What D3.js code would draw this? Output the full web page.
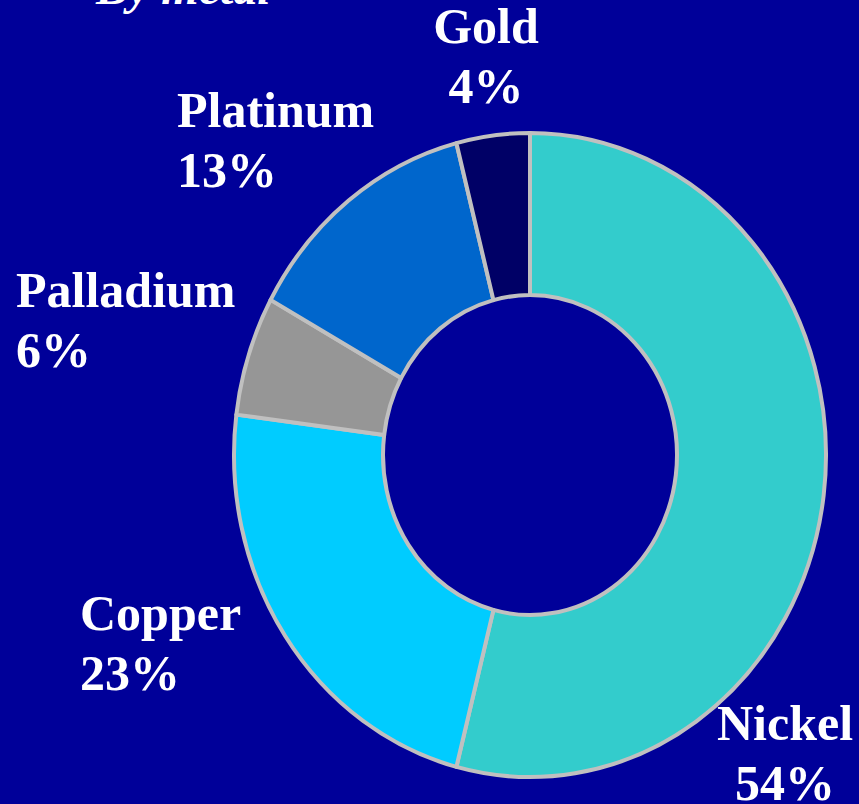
<!DOCTYPE html>
<html>
<head>
<meta charset="utf-8">
<script src="https://cdn.jsdelivr.net/npm/d3@7"></script>
<style>
  html, body { margin: 0; padding: 0; background: #000099; }
  svg { display: block; }
  text { font-family: "Liberation Serif", "Times New Roman", serif; font-weight: bold; fill: #ffffff; }
</style>
</head>
<body>
<svg id="chart" width="859" height="804"></svg>
<script>
// Share of output by metal (percent), clockwise from 12 o'clock
const metals = ["Nickel", "Copper", "Palladium", "Platinum", "Gold"];
const shares = [54, 23, 6, 13, 4];
const sliceColors = ["#33CCCC", "#00CCFF", "#969696", "#0066CC", "#000066"];
const subtitle = "By metal";

const W = 859, H = 804;
const cx = 530, cy = 455;
const outerR = 296, innerR = 147;
const yStretch = 1.088;          // the ring is drawn slightly taller than wide

const svg = d3.select("#chart");

svg.append("rect").attr("width", W).attr("height", H).attr("fill", "#000099");

const data = metals.map((m, i) => ({ metal: m, value: shares[i], color: sliceColors[i] }));

const pie = d3.pie().sort(null).value(d => d.value).startAngle(0).endAngle(2 * Math.PI);
const arc = d3.arc().innerRadius(innerR).outerRadius(outerR);

const ring = svg.append("g")
  .attr("transform", `translate(${cx},${cy}) scale(1,${yStretch})`);

ring.selectAll("path")
  .data(pie(data))
  .join("path")
  .attr("d", arc)
  .attr("fill", d => d.data.color)
  .attr("stroke", "#C0C0C0")
  .attr("stroke-width", 4)
  .attr("stroke-linejoin", "round")
  .attr("vector-effect", "non-scaling-stroke");

// Slice labels: name on the first line, percentage on the second
const labelPos = {
  Nickel:    { x: 785, y: 740, anchor: "middle" },
  Copper:    { x: 80,  y: 630, anchor: "start" },
  Palladium: { x: 16,  y: 307, anchor: "start" },
  Platinum:  { x: 177, y: 127, anchor: "start" },
  Gold:      { x: 486, y: 43,  anchor: "middle" }
};
const lineGap = 60;

const labels = svg.append("g");
data.forEach(d => {
  const p = labelPos[d.metal];
  const t = labels.append("text")
    .attr("x", p.x).attr("y", p.y)
    .attr("text-anchor", p.anchor)
    .attr("font-size", 50);
  t.append("tspan").attr("x", p.x).text(d.metal);
  t.append("tspan").attr("x", p.x).attr("dy", lineGap).text(d.value + "%");
});

// Subtitle, partly above the top edge
svg.append("text")
  .attr("x", 96).attr("y", 4)
  .attr("font-size", 48)
  .attr("font-style", "italic")
  .text(subtitle);
</script>
</body>
</html>
